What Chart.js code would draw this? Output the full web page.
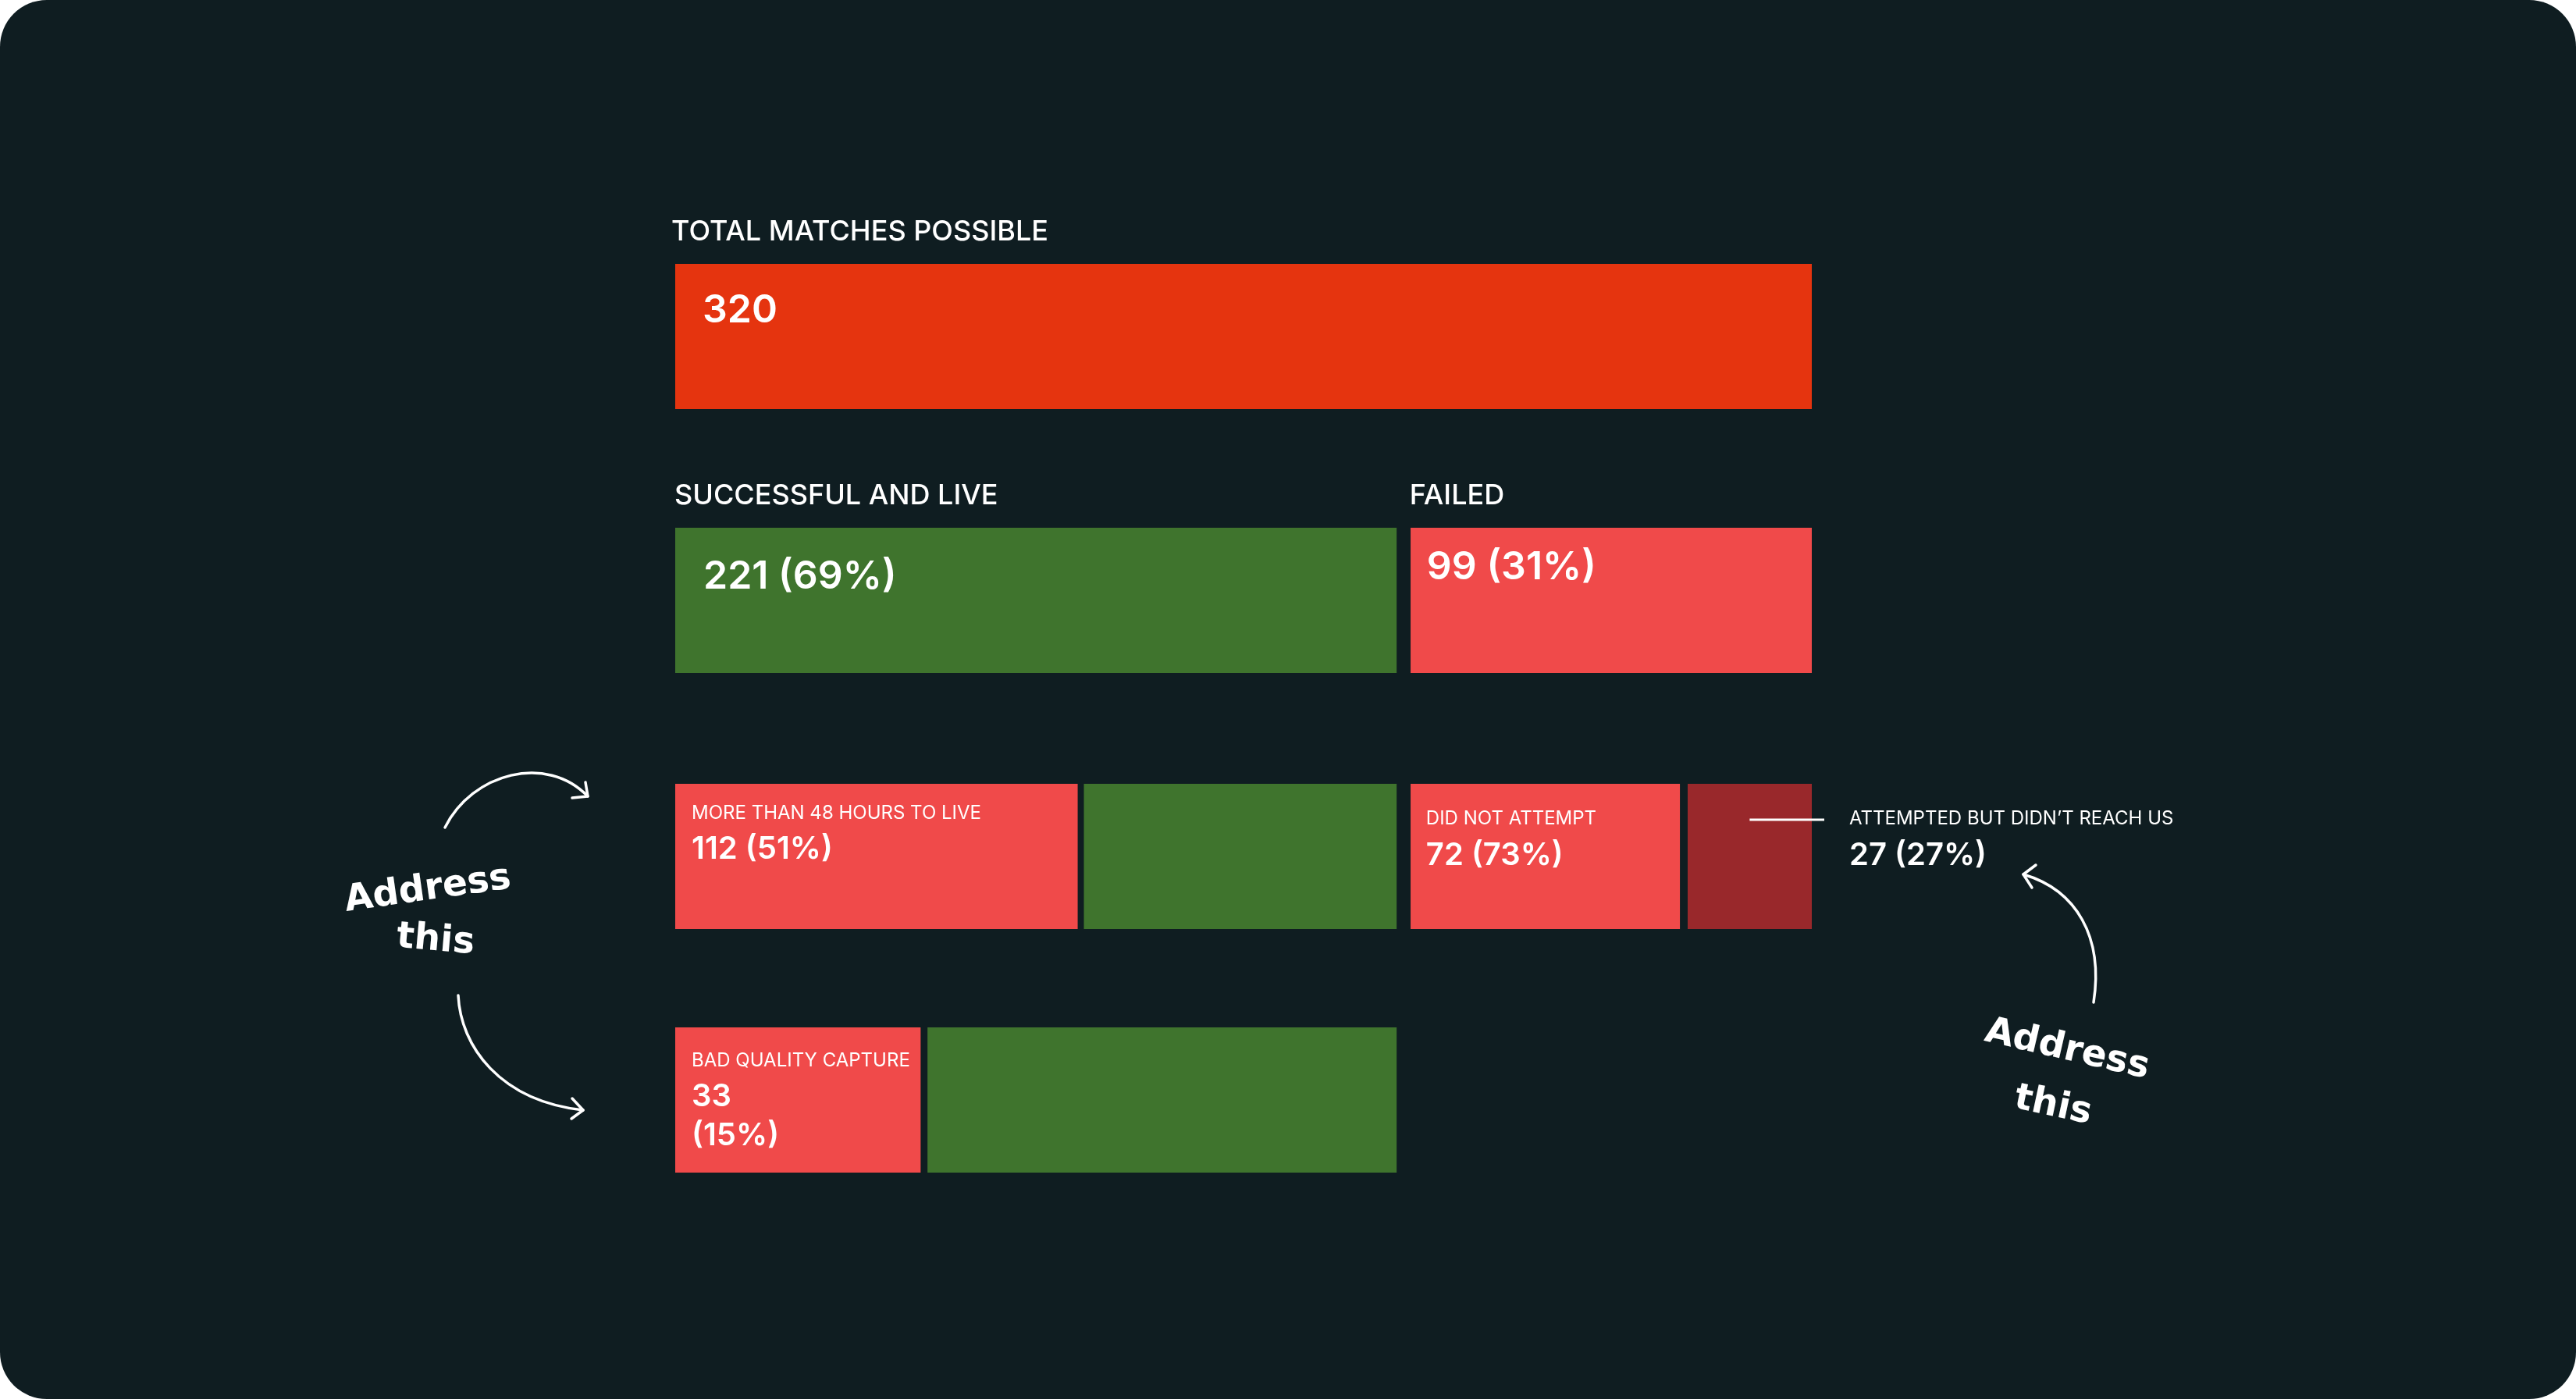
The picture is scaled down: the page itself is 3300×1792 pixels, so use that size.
<!doctype html>
<html lang="en">
  <head>
    <meta charset="UTF-8" />
    <title>Match Funnel</title>
    <script src="https://cdn.jsdelivr.net/npm/chart.js"></script>
    <style>
      body { margin: 0; background: #ffffff; }
      #board {
        position: relative;
        width: 3300px;
        height: 1792px;
        background: #0f1d21;
        border-radius: 60px;
        overflow: hidden;
      }
      #board canvas { position: absolute; left: 0; top: 0; }
    </style>
  </head>
  <body>
    <div id="board">
      <canvas id="row0" width="3300" height="1792"></canvas>
      <canvas id="row1" width="3300" height="1792"></canvas>
      <canvas id="row2" width="3300" height="1792"></canvas>
      <canvas id="row3" width="3300" height="1792"></canvas>
    </div>

    <script>
      // counts printed on the bars (null = segment has no label)
      var totalCounts = [320];
      var outcomeCounts = [221, 99];
      var outcomePct = [69, 31];
      var breakdownCounts = [112, null, 72, 27];
      var breakdownPct = [51, null, 73, 27];
      var captureCounts = [33, null];
      var capturePct = [15, null];

      // segment lengths as drawn, on the same 0-320 axis
      var totalLengths = [320];
      var outcomeLengths = [207, 113];
      var breakdownLengths = [115, 92, 78, 35];
      var captureLengths = [71, 136];

      var totalTitles = ["TOTAL MATCHES POSSIBLE"];
      var outcomeTitles = ["SUCCESSFUL AND LIVE", "FAILED"];
      var breakdownNames = ["MORE THAN 48 HOURS TO LIVE", "", "DID NOT ATTEMPT", "ATTEMPTED BUT DIDN’T REACH US"];
      var captureNames = ["BAD QUALITY CAPTURE", ""];

      var C = {
        bg: "#0f1d21",
        total: "#e5340f",
        green: "#3f742d",
        red: "#f04a4a",
        dark: "#99282b",
      };
      var FONT = "Inter, 'Noto Sans', sans-serif";
      Chart.defaults.font.family = FONT;

      // one chart per row, all canvases stacked over the same board
      var rows = [
        {
          id: "row0", top: 338, bottom: 524,
          lengths: totalLengths, counts: totalCounts, pct: [null],
          titles: totalTitles, names: [""],
          colors: [C.total], gaps: [0], outside: [false],
          valueSize: 50, pad: [35], nameBase: [0], valueBase: [75], wrap: false, titleShift: -5,
        },
        {
          id: "row1", top: 676, bottom: 862,
          lengths: outcomeLengths, counts: outcomeCounts, pct: outcomePct,
          titles: outcomeTitles, names: ["", ""],
          colors: [C.green, C.red], gaps: [18, 0], outside: [false, false],
          valueSize: 50, pad: [36, 21], nameBase: [0, 0], valueBase: [78, 66], wrap: false, titleShift: -1,
        },
        {
          id: "row2", top: 1004, bottom: 1190,
          lengths: breakdownLengths, counts: breakdownCounts, pct: breakdownPct,
          titles: [], names: breakdownNames,
          colors: [C.red, C.green, C.red, C.dark], gaps: [8, 18, 10, 0], outside: [false, false, false, true],
          valueSize: 40, pad: [21, 0, 20, 0], nameBase: [45, 0, 52, 52], valueBase: [96, 0, 104, 104], wrap: false,
        },
        {
          id: "row3", top: 1316, bottom: 1502,
          lengths: captureLengths, counts: captureCounts, pct: capturePct,
          titles: [], names: captureNames,
          colors: [C.red, C.green], gaps: [9, 18], outside: [false, false],
          valueSize: 40, pad: [21, 0], nameBase: [50, 0], valueBase: [101, 0], wrap: true,
        },
      ];

      function labelPlugin(row) {
        return {
          id: "rowLabels",
          afterDatasetsDraw: function (chart) {
            var ctx = chart.ctx;
            ctx.save();
            ctx.fillStyle = "#ffffff";
            ctx.strokeStyle = "#ffffff";
            ctx.textBaseline = "alphabetic";
            ctx.textAlign = "left";
            row.lengths.forEach(function (v, i) {
              var bar = chart.getDatasetMeta(i).data[0];
              var left = Math.min(bar.x, bar.base);
              var right = Math.max(bar.x, bar.base);
              var top = bar.y - bar.height / 2;

              if (row.titles[i]) {
                ctx.font = "500 36px " + FONT;
                ctx.fillText(row.titles[i], left + row.titleShift, top - 30);
              }
              if (row.counts[i] == null) return;

              var x = left + row.pad[i];
              if (row.outside[i]) {
                ctx.lineWidth = 3;
                ctx.beginPath();
                ctx.moveTo((left + right) / 2, top + 46);
                ctx.lineTo(right + 16, top + 46);
                ctx.stroke();
                x = right + 48;
              }
              if (row.names[i]) {
                ctx.font = "400 24px " + FONT;
                ctx.fillText(row.names[i], x, top + row.nameBase[i]);
              }
              var count = String(row.counts[i]);
              var pct = row.pct[i] != null ? "(" + row.pct[i] + "%)" : "";
              ctx.font = "600 " + row.valueSize + "px " + FONT;
              if (row.wrap && pct) {
                ctx.fillText(count, x, top + row.valueBase[i]);
                ctx.fillText(pct, x, top + row.valueBase[i] + 50);
              } else {
                ctx.fillText(pct ? count + " " + pct : count, x, top + row.valueBase[i]);
              }
            });
            ctx.restore();
          },
        };
      }

      // hand-drawn "Address this" notes with arrows
      var notesPlugin = {
        id: "notes",
        afterDraw: function (chart) {
          var ctx = chart.ctx;
          ctx.save();
          ctx.strokeStyle = "#ffffff";
          ctx.fillStyle = "#ffffff";
          ctx.lineWidth = 3.5;
          ctx.lineCap = "round";
          ctx.lineJoin = "round";

          function arrow(p0, c1, c2, p3, h1, h2) {
            ctx.beginPath();
            ctx.moveTo(p0[0], p0[1]);
            ctx.bezierCurveTo(c1[0], c1[1], c2[0], c2[1], p3[0], p3[1]);
            ctx.stroke();
            ctx.beginPath();
            ctx.moveTo(h1[0], h1[1]);
            ctx.lineTo(p3[0], p3[1]);
            ctx.lineTo(h2[0], h2[1]);
            ctx.stroke();
          }
          function note(text, x, y, deg) {
            ctx.save();
            ctx.translate(x, y);
            ctx.rotate((deg * Math.PI) / 180);
            ctx.font = "bold 47px 'DejaVu Sans', sans-serif";
            ctx.textAlign = "center";
            ctx.textBaseline = "middle";
            ctx.fillText(text, 0, 0);
            ctx.restore();
          }

          arrow([570, 1060], [605, 990], [700, 965], [753, 1020], [750, 1002], [733, 1022]);
          arrow([587, 1275], [590, 1340], [640, 1410], [747, 1422], [733, 1407], [732, 1433]);
          arrow([2682, 1284], [2695, 1200], [2660, 1140], [2592, 1120], [2608, 1108], [2603, 1137]);

          note("Address", 548, 1140, -8);
          note("this", 558, 1205, 5);
          note("Address", 2648, 1345, 13);
          note("this", 2630, 1417, 12);
          ctx.restore();
        },
      };

      rows.forEach(function (row, r) {
        var ctx = document.getElementById(row.id).getContext("2d");
        var plugins = [labelPlugin(row)];
        if (r === rows.length - 1) plugins.push(notesPlugin);
        new Chart(ctx, {
          type: "bar",
          data: {
            labels: [""],
            datasets: row.lengths.map(function (v, i) {
              return {
                data: [v],
                backgroundColor: row.colors[i],
                borderColor: C.bg,
                borderWidth: { top: 0, bottom: 0, left: 0, right: row.gaps[i] },
                borderSkipped: false,
                barPercentage: 1,
                categoryPercentage: 1,
              };
            }),
          },
          options: {
            indexAxis: "y",
            responsive: false,
            animation: false,
            events: [],
            layout: {
              padding: { left: 865, right: 979, top: row.top, bottom: 1792 - row.bottom },
            },
            scales: {
              x: { stacked: true, min: 0, max: 320, display: false },
              y: { stacked: true, display: false },
            },
            plugins: {
              legend: { display: false },
              tooltip: { enabled: false },
            },
          },
          plugins: plugins,
        });
      });
    </script>
  </body>
</html>
